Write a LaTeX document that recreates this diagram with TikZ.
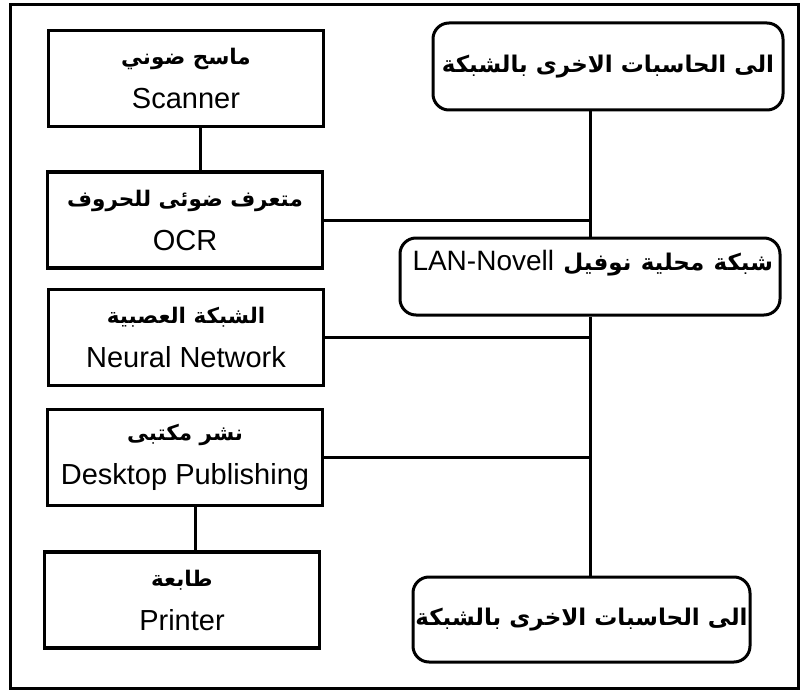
\documentclass[tikz,border=0pt]{standalone}
\usepackage{fontspec}
\setmainfont{Liberation Sans}
\newfontfamily\arabicfont[Script=Arabic]{DejaVu Sans}
\TeXXeTstate=1
\usetikzlibrary{positioning}
\newcommand\artext[2][22]{{\arabicfont\bfseries\fontsize{#1}{44}\selectfont\beginR #2\endR}}

\tikzset{
  unit/.style={draw, line width=3.5pt, minimum width=275pt, minimum height=96pt,
    align=center, inner sep=0pt, font=\fontsize{29}{44}\selectfont},
  netbox/.style={draw, line width=3pt, rounded corners=16pt, inner sep=0pt,
    font=\fontsize{28}{30}\selectfont},
  link/.style={line width=3pt},
}

\begin{document}
\begin{tikzpicture}[x=1pt, y=-1pt]
  \useasboundingbox (0,0) rectangle (801,698);
  \draw[line width=3pt] (10,5) rectangle (798,688);

  % left column: the stations
  \node[unit] (scanner) at (186,78.5) {\artext[21.5]{ماسح ضوني}\\ Scanner};
  \node[unit] (ocr) at (185,220) {\artext[21.5]{متعرف ضوئى للحروف}\\ OCR};
  \node[unit] (neural) at (186,337.5) {\artext[21.5]{الشبكة العصبية}\\ Neural Network};
  \node[unit] (dtp) at (185,457.5) {\artext[21.5]{نشر مكتبى}\\ Desktop Publishing};
  \node[unit] (printer) at (182,600) {\artext[21.5]{طابعة}\\ Printer};

  % right column: the network
  \node[netbox, minimum width=350pt, minimum height=87pt] (hostsup) at (608,66.5)
    {\artext[23]{الى الحاسبات الاخرى بالشبكة}};
  \node[netbox, minimum width=380pt, minimum height=77pt, text height=20pt, text depth=33pt,
    text width=366pt, align=right]
    (lan) at (590,276.5)
    {\beginR{\arabicfont\bfseries\fontsize{23}{30}\selectfont شبكة محلية  نوفيل} \beginL LAN-Novell\endL\endR};
  \node[netbox, minimum width=337pt, minimum height=85pt] (hostsdown) at (581.5,619.5)
    {\artext[23]{الى الحاسبات الاخرى بالشبكة}};

  % links
  \draw[link] ([xshift=14pt]scanner.south) -- ([xshift=14pt]scanner.south |- ocr.north);
  \draw[link] ([xshift=10pt]dtp.south) -- ([xshift=10pt]dtp.south |- printer.north);
  \draw[link] (hostsup.south -| lan.north) -- (lan.north);
  \draw[link] (lan.south) -- (lan.south |- hostsdown.north);
  \draw[link] (ocr.east) -- (ocr.east -| lan.north);
  \draw[link] (neural.east) -- (neural.east -| lan.north);
  \draw[link] (dtp.east) -- (dtp.east -| lan.north);
\end{tikzpicture}
\end{document}
